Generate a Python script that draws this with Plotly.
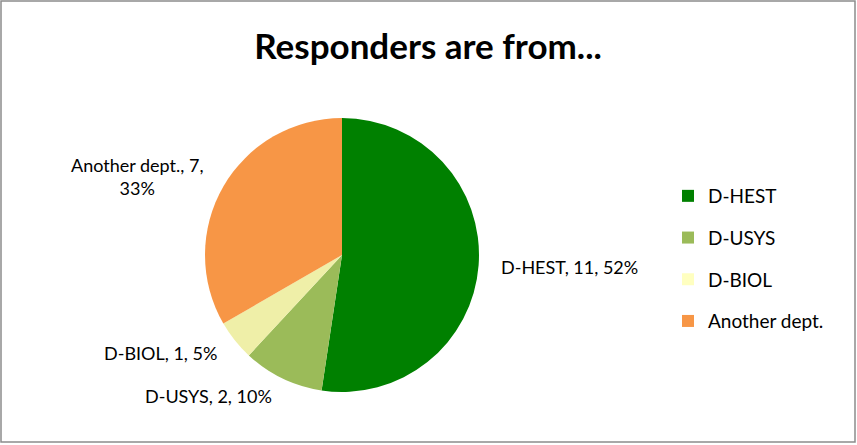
import math
import plotly.graph_objects as go

labels = ["D-HEST", "D-USYS", "D-BIOL", "Another dept."]
values = [11, 2, 1, 7]
label_texts = ["D-HEST, 11, 52%", "D-USYS, 2, 10%", "D-BIOL, 1, 5%", "Another dept., 7,<br>33%"]
colors = ["#008000", "#9BBB59", "#EFEFA8", "#F79646"]
legend_colors = ["#008000", "#9BBB59", "#FFFFC0", "#F79646"]
title = "Responders are from..."

FONT = "Lato, Open Sans, sans-serif"
W, H = 857, 445
CX, CY, R = 342, 255, 137  # pie centre and radius in pixels
LABEL_GAP = 20

fig = go.Figure()
fig.add_trace(go.Pie(
    labels=labels, values=values, sort=False, direction="clockwise", rotation=0,
    marker=dict(colors=colors, line=dict(width=0)),
    textinfo="none",
    showlegend=False, hoverinfo="label+value+percent",
    domain=dict(x=[(CX - R) / W, (CX + R) / W], y=[(H - CY - R) / H, (H - CY + R) / H]),
))

# data labels placed outside each slice along its mid-angle
annotations = []
total = sum(values)
cum = 0
for v, txt in zip(values, label_texts):
    mid = (cum + v / 2) / total * 2 * math.pi
    cum += v
    s, c = math.sin(mid), math.cos(mid)
    px = CX + (R + LABEL_GAP) * s
    py = CY - (R + LABEL_GAP) * c
    xa = "left" if s > 0.1 else ("right" if s < -0.1 else "center")
    annotations.append(dict(
        x=px / W, y=1 - py / H, xref="paper", yref="paper", text=txt, showarrow=False,
        xanchor=xa, yanchor="middle", align="center",
        font=dict(family=FONT, size=18, color="#000000"),
    ))

for lab, col in zip(labels, legend_colors):
    fig.add_trace(go.Scatter(
        x=[None], y=[None], mode="markers", name=lab, legendgroup=lab,
        marker=dict(symbol="square", size=12, color=col),
    ))

fig.update_layout(
    width=W, height=H,
    margin=dict(l=0, r=0, t=0, b=0),
    paper_bgcolor="white", plot_bgcolor="white",
    title=dict(text="<b>" + title + "</b>", x=428 / W, xanchor="center", y=1 - 47 / H, yanchor="middle",
               font=dict(family=FONT, size=35, color="#000000")),
    xaxis=dict(visible=False), yaxis=dict(visible=False),
    legend=dict(x=668 / W, y=1 - 177 / H, xanchor="left", yanchor="top",
                font=dict(family=FONT, size=19, color="#000000"),
                tracegroupgap=14, itemwidth=30, bgcolor="rgba(0,0,0,0)"),
    annotations=annotations,
    shapes=[dict(type="rect", xref="paper", yref="paper", x0=1 / W, x1=1 - 2 / W, y0=3 / H, y1=1 - 1 / H,
                 line=dict(color="#8C8C8C", width=1.5))],
)

fig.write_html("out.html", config={"displayModeBar": False},
               post_script="document.body.style.margin='0';")
